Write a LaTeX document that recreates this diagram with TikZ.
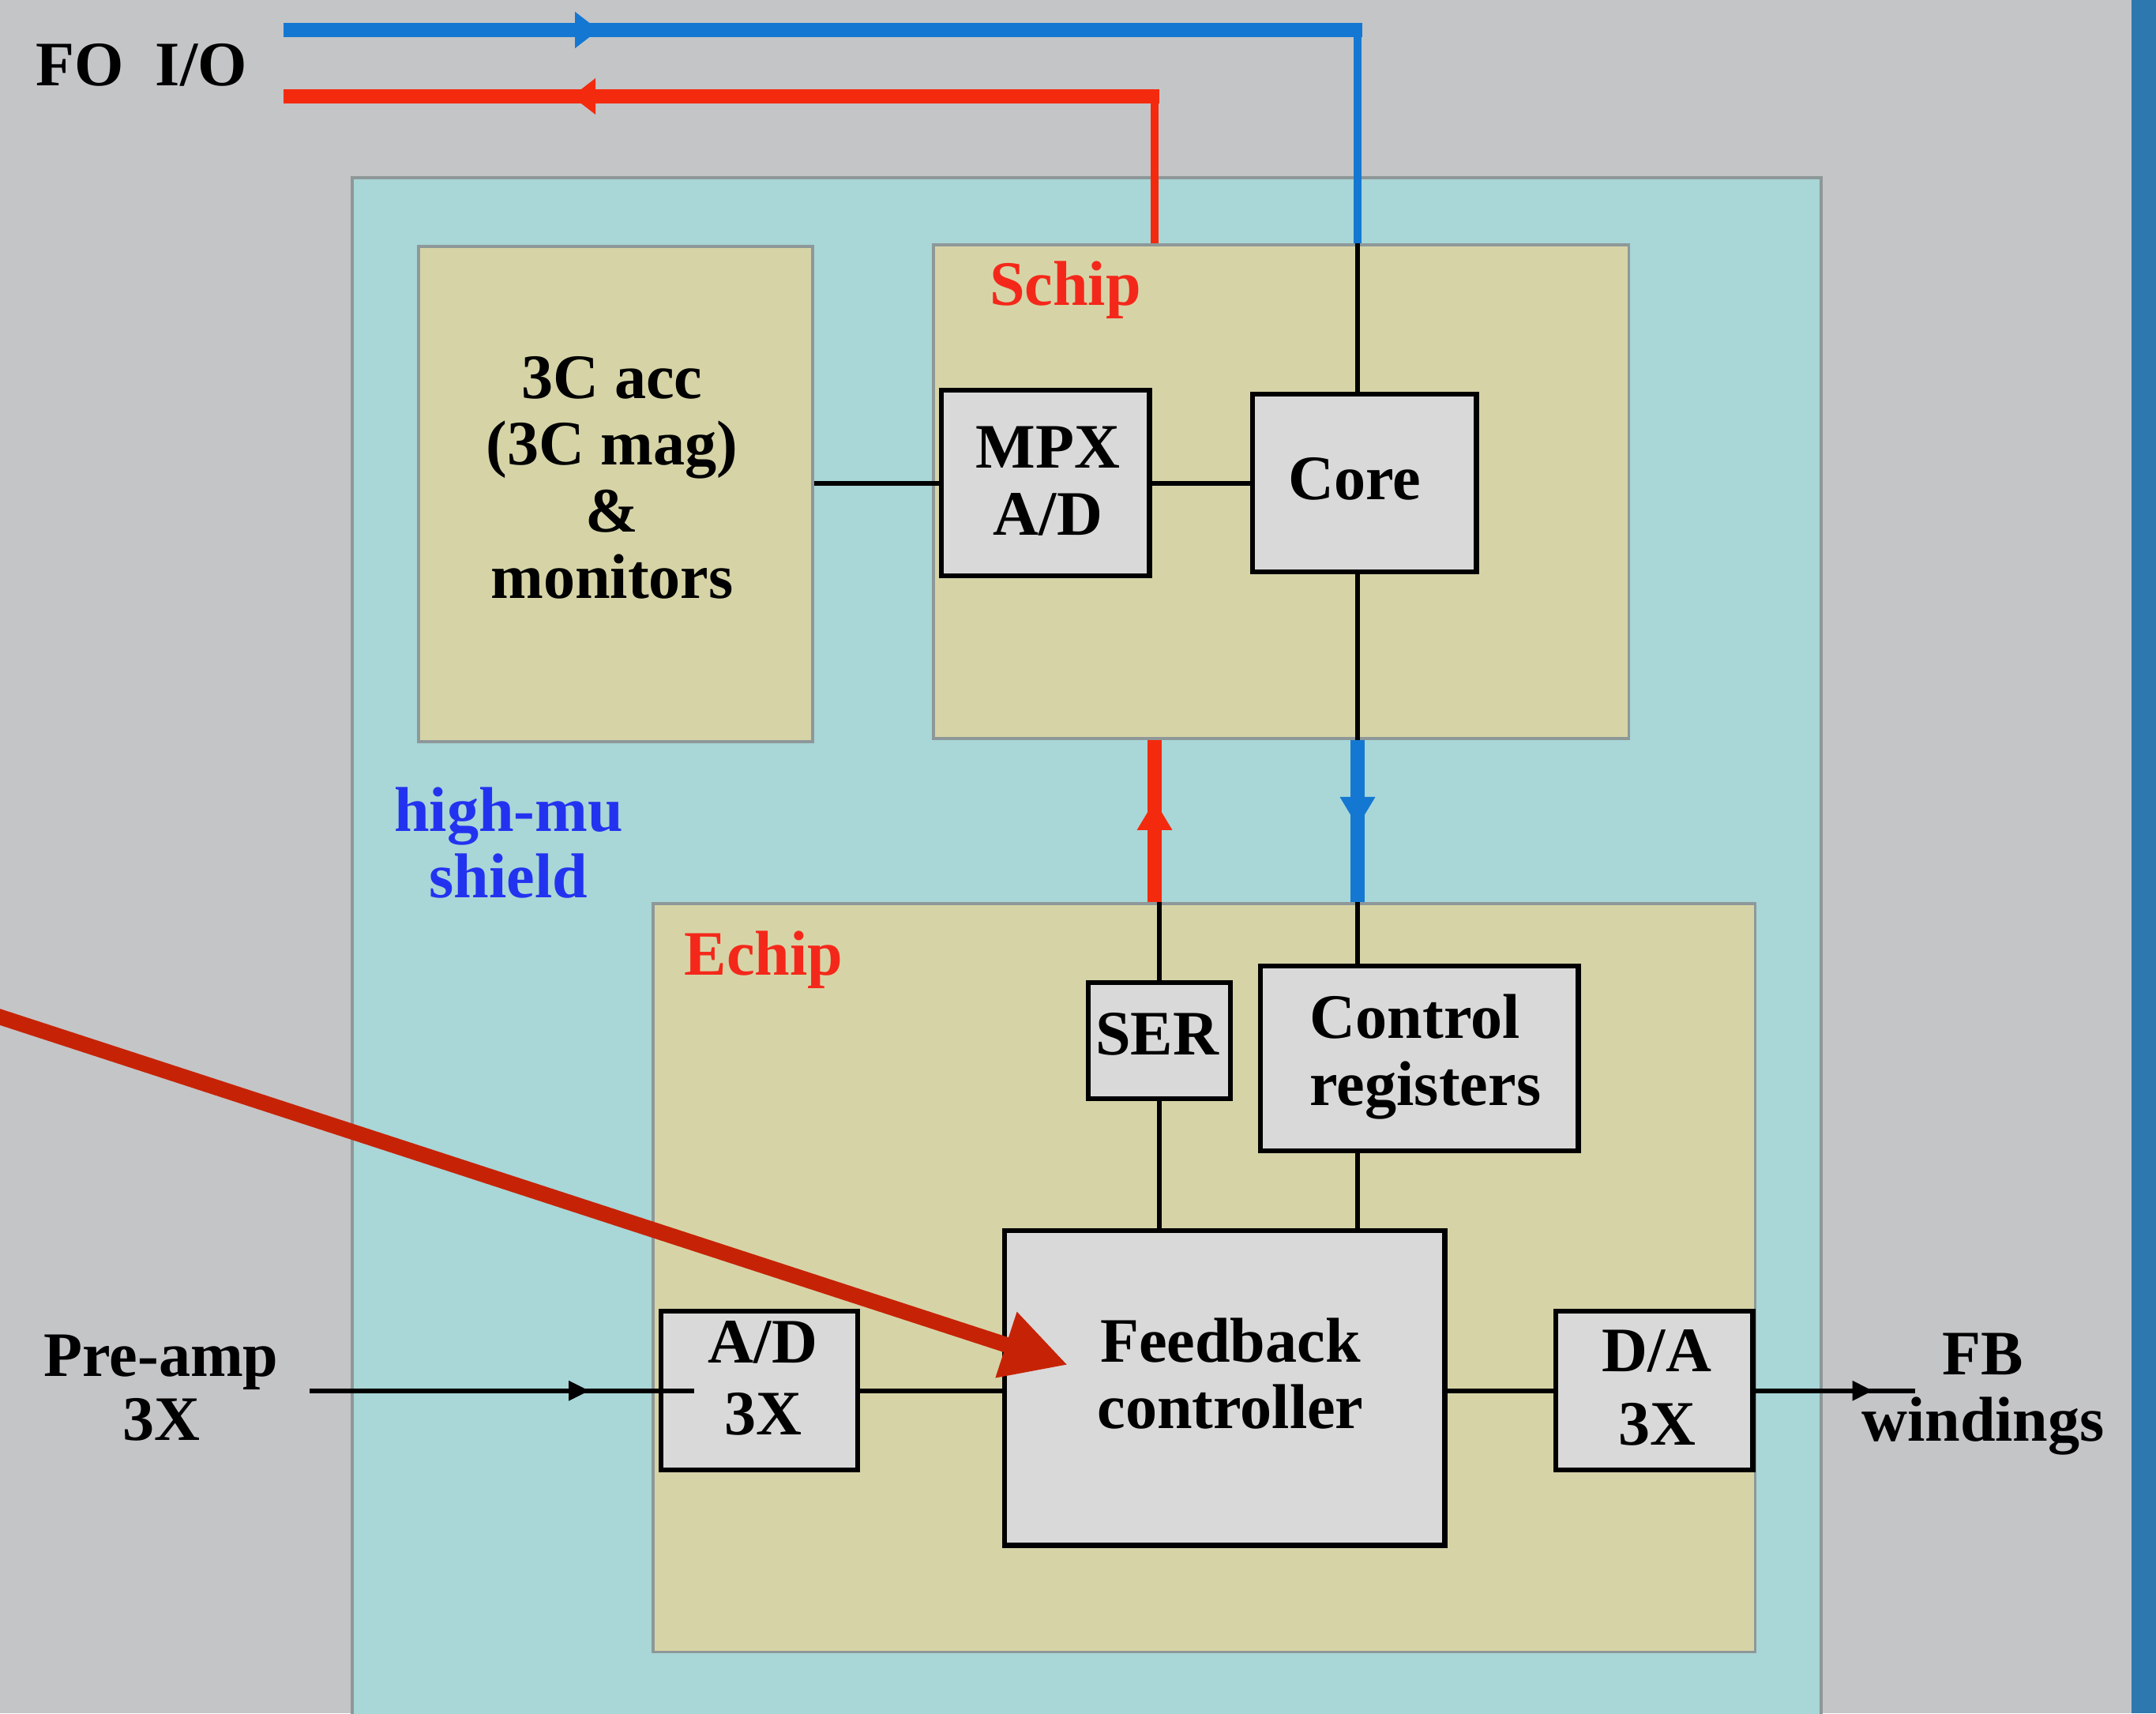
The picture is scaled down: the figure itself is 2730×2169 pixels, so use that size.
\documentclass[tikz,border=0pt]{standalone}
\usepackage{fontspec}
\setmainfont{Liberation Serif}
\usetikzlibrary{arrows.meta,decorations.markings,calc}

\definecolor{bggray}{HTML}{C4C5C7}
\definecolor{shieldc}{HTML}{A9D6D7}
\definecolor{khaki}{HTML}{D6D4A7}
\definecolor{boxgray}{HTML}{D9D9D9}
\definecolor{lblue}{HTML}{1478D2}
\definecolor{lred}{HTML}{F42A0E}
\definecolor{bigred}{HTML}{C62306}
\definecolor{tred}{HTML}{F4281A}
\definecolor{tblue}{HTML}{2233F0}
\definecolor{stripc}{HTML}{2C78AF}
\definecolor{framec}{HTML}{8E9899}

\tikzset{
  txt/.style={font=\fontsize{22.8pt}{24pt}\selectfont\bfseries, inner sep=0pt, align=center},
  cbox/.style={draw=framec, line width=1pt, fill=shieldc, anchor=north west, inner sep=0pt},
  kbox/.style={draw=framec, line width=1pt, fill=khaki, anchor=north west, inner sep=0pt},
  gbox/.style={draw=black, line width=1.8pt, fill=boxgray, anchor=north west, inner sep=0pt},
  conn/.style={color=black, line width=1.6pt},
  thickblue/.style={color=lblue, line width=5.2pt},
  thickred/.style={color=lred, line width=5.2pt},
  toparrow/.style={postaction={decorate}, decoration={markings, mark=at position #1 with {\arrow{Triangle[length=0.30cm,width=0.44cm]}}}},
  colarrow/.style={postaction={decorate}, decoration={markings, mark=at position #1 with {\arrow{Triangle[length=0.38cm,width=0.42cm]}}}},
  smallarrow/.style={postaction={decorate}, decoration={markings, mark=at position #1 with {\arrow{Triangle[length=0.26cm,width=0.24cm]}}}},
}

\begin{document}
\begin{tikzpicture}[x=0.01cm,y=-0.01cm]
\useasboundingbox (0,0) rectangle (2730,2169);
\clip (0,0) rectangle (2730,2169);
\fill[bggray] (0,0) rectangle (2730,2169);
\fill[stripc] (2699,0) rectangle (2730,2169);

% containers
\node[cbox, minimum width=18.59cm, minimum height=20cm] (shield) at (444,223) {};
\node[kbox, minimum width=4.99cm, minimum height=6.27cm] (acc) at (528,310) {};
\node[kbox, minimum width=8.80cm, minimum height=6.25cm] (schip) at (1180,308) {};
\node[kbox, minimum width=13.95cm, minimum height=9.47cm] (echip) at (825,1142) {};

% gray boxes
\node[gbox, minimum width=2.63cm, minimum height=2.35cm] (mpx) at (1189,491) {};
\node[gbox, minimum width=2.83cm, minimum height=2.25cm] (core) at (1583,496) {};
\node[gbox, minimum width=1.80cm, minimum height=1.47cm] (ser) at (1375,1241) {};
\node[gbox, minimum width=4.02cm, minimum height=2.34cm] (ctrl) at (1593,1220) {};
\node[gbox, minimum width=5.57cm, minimum height=3.98cm] (fb) at (1269,1555) {};
\node[gbox, minimum width=2.49cm, minimum height=2.01cm] (ad) at (834,1657) {};
\node[gbox, minimum width=2.49cm, minimum height=2.01cm] (da) at (1967,1657) {};

% coordinates
\coordinate (bstart) at (359,38);
\coordinate (bcorner) at (1719,38);
\coordinate (rstart) at (359,122);
\coordinate (rcorner) at (1462,122);
\coordinate (pin) at (392,0);
\coordinate (fbout) at (2425,0);
\coordinate (bigstart) at (-20,1281);
\coordinate (bigtip) at (1352,1728);

% FO I/O lines
\draw[thickblue, toparrow=3.99cm] (bstart) -- ([xshift=0.055cm]bcorner);
\draw[color=lblue, line width=3.1pt] ([yshift=0.09cm]bcorner) -- (bcorner |- schip.north);
\draw[thickred, toparrow=7.43cm] ([xshift=0.055cm]rcorner) -- (rstart);
\draw[color=lred, line width=3.1pt] ([yshift=0.09cm]rcorner) -- (rcorner |- schip.north);

% Schip <-> Echip
\draw[color=lred, line width=5.2pt, colarrow=1.29cm] (rcorner |- echip.north) -- (rcorner |- schip.south);
\draw[color=lblue, line width=5pt, colarrow=1.10cm] (bcorner |- schip.south) -- (bcorner |- echip.north);

% black connectors
\draw[conn] (bcorner |- schip.north) -- (bcorner |- core.north);
\draw[conn] (bcorner |- core.south) -- (bcorner |- schip.south);
\draw[conn] (bcorner |- echip.north) -- (bcorner |- ctrl.north);
\draw[conn] (bcorner |- ctrl.south) -- (bcorner |- fb.north);
\draw[conn] (ser.north |- echip.north) -- (ser.north);
\draw[conn] (ser.south) -- (ser.south |- fb.north);
\draw[conn] (acc.east |- mpx.west) -- (mpx.west);
\draw[conn] (mpx.east) -- (mpx.east -| core.west);
\draw[conn, smallarrow=3.54cm] (pin |- ad.west) -- ([xshift=0.45cm]ad.west);
\draw[conn] (ad.east) -- (ad.east -| fb.west);
\draw[conn] (da.west -| fb.east) -- (da.west);
\draw[conn, smallarrow=1.49cm] (da.east) -- (da.east -| fbout);

% texts
\node[txt, anchor=base] (foio) at (179,108) {FO~~I/O};
\node[txt] (acct) at (775,605) {3C acc\\(3C mag)\\\&\\monitors};
\node[txt, text=tred, anchor=base] (schipt) at (1349,386) {Schip};
\node[txt] (mpxt) at (1327,609) {MPX\\A/D};
\node[txt, anchor=base] (coret) at (1715,632) {Core};
\node[txt, text=tblue] (hmt) at (644,1067) {high-mu\\shield};
\node[txt, text=tred, anchor=base] (echipt) at (967,1234) {Echip};
\node[txt, anchor=base] (sert) at (1465,1335) {SER};
\node[txt, align=left] (ctrlt) at (1805,1338) {Control\\registers};
\node[txt] (fbt) at (1558,1739) {Feedback\\controller};
\node[txt, font=\fontsize{22.8pt}{26pt}\selectfont\bfseries] (adt) at (966,1745) {A/D\\3X};
\node[txt, font=\fontsize{22.8pt}{26.5pt}\selectfont\bfseries] (dat) at (2098,1757) {D/A\\3X};
\node[txt, font=\fontsize{22.8pt}{23pt}\selectfont\bfseries] (pret) at (204,1757) {Pre-amp\\3X};
\node[txt] (fbwt) at (2511,1765) {FB\\windings};

% big red pointer
\draw[color=bigred, line width=5.6pt, -{Triangle[length=0.82cm,width=0.82cm]}] (bigstart) -- (bigtip);
\end{tikzpicture}
\end{document}
